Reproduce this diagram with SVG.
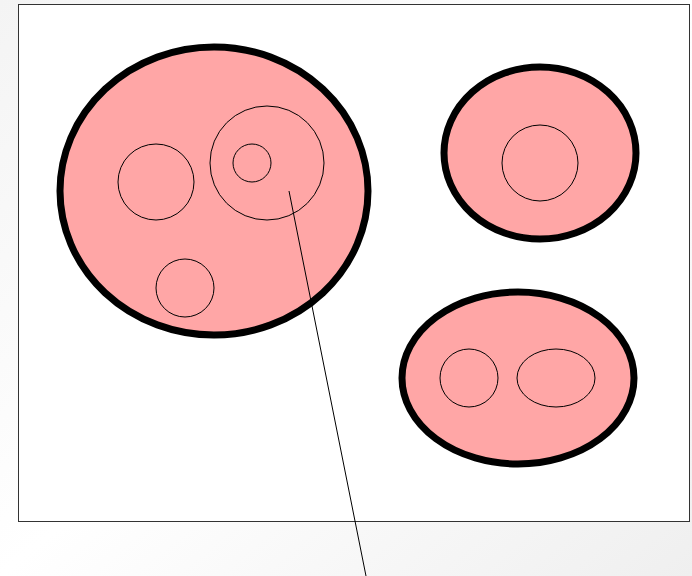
<svg xmlns="http://www.w3.org/2000/svg" width="692" height="576" viewBox="0 0 692 576">
<defs>
<linearGradient id="bg" x1="0" y1="0" x2="1" y2="1">
<stop offset="0" stop-color="#f4f4f4"/>
<stop offset="0.5" stop-color="#ffffff"/>
<stop offset="1" stop-color="#efefef"/>
</linearGradient>
</defs>
<style>
.outer{fill:#ffa6a6;stroke:#000;stroke-width:7}
.inner{fill:none;stroke:#000;stroke-width:1}
</style>
<rect x="0" y="0" width="692" height="576" fill="url(#bg)"/>
<rect x="18.5" y="4.5" width="671" height="517" fill="#fff" stroke="#333" stroke-width="1"/>
<g id="node-big">
<ellipse class="outer" cx="214" cy="191" rx="154" ry="144"/>
<circle class="inner" cx="156" cy="182" r="38"/>
<circle class="inner" cx="267" cy="163" r="57"/>
<circle class="inner" cx="252" cy="163" r="19"/>
<circle class="inner" cx="185" cy="288" r="29"/>
</g>
<g id="node-topright">
<ellipse class="outer" cx="540" cy="153" rx="96" ry="86"/>
<circle class="inner" cx="540" cy="163" r="38"/>
</g>
<g id="node-bottomright">
<ellipse class="outer" cx="518" cy="378" rx="116" ry="86"/>
<circle class="inner" cx="469" cy="378" r="29"/>
<ellipse class="inner" cx="556" cy="378" rx="39" ry="29"/>
</g>
<g id="connectors">
<line x1="289" y1="191" x2="366" y2="576" stroke="#000" stroke-width="1"/>
</g>
</svg>
